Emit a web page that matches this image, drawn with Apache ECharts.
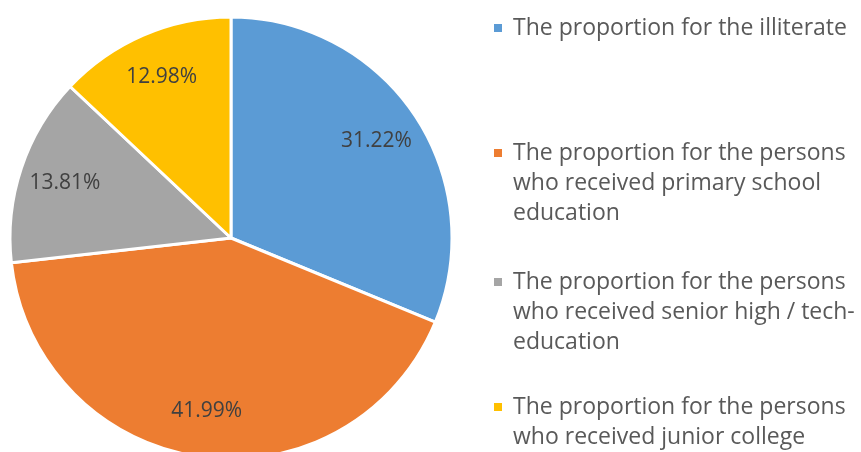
<!DOCTYPE html>
<html>
<head>
<meta charset="utf-8">
<script src="https://cdn.jsdelivr.net/npm/echarts@6/dist/echarts.min.js"></script>
<style>
  html, body { margin: 0; padding: 0; background: #fff; }
  #chart { width: 861px; height: 452px; }
</style>
</head>
<body>
<div id="chart"></div>
<script>
// data
const categories = [
  'The proportion for the illiterate',
  'The proportion for the persons who received primary school education',
  'The proportion for the persons who received senior high / tech-education',
  'The proportion for the persons who received junior college education'
];
const shares = [31.22, 41.99, 13.81, 12.98];
const colors = ['#5B9BD5', '#ED7D31', '#A5A5A5', '#FFC000'];
// how each legend entry wraps in the original
const legendLines = [
  ['The proportion for the illiterate'],
  ['The proportion for the persons', 'who received primary school', 'education'],
  ['The proportion for the persons', 'who received senior high / tech-', 'education'],
  ['The proportion for the persons', 'who received junior college', 'education']
];
const legendTops = [13, 78, 207, 332];

const FONT = '"Open Sans", "Noto Sans", sans-serif';
const chart = echarts.init(document.getElementById('chart'));

const pieData = categories.map((name, i) => ({
  name: name,
  value: shares[i],
  itemStyle: { color: colors[i] }
}));

// one legend block per entry; leading blank lines keep the icon on the first text line
const legends = categories.map((name, i) => {
  const lines = legendLines[i];
  const pad = new Array(lines.length - 1).fill('');
  return {
    data: [name],
    left: 492,
    top: legendTops[i],
    padding: 0,
    itemWidth: 10,
    itemHeight: 10,
    icon: 'rect',
    selectedMode: false,
    formatter: () => pad.concat(lines).join('\n'),
    textStyle: {
      fontFamily: FONT,
      fontSize: 23,
      lineHeight: 30,
      color: '#595959',
      padding: [0, 0, 0, 5]
    }
  };
});

const option = {
  animation: false,
  backgroundColor: '#fff',
  legend: legends,
  series: [
    {
      type: 'pie',
      center: [231, 238],
      radius: 221,
      startAngle: 90,
      clockwise: true,
      silent: true,
      label: { show: false },
      labelLine: { show: false },
      itemStyle: { borderColor: '#fff', borderWidth: 3 },
      data: pieData
    },
    {
      // transparent ring only used to place the percentage labels
      type: 'pie',
      center: [231, 238],
      radius: [123, 221],
      startAngle: 90,
      clockwise: true,
      silent: true,
      avoidLabelOverlap: false,
      itemStyle: { color: 'rgba(0,0,0,0)', borderWidth: 0 },
      label: {
        show: true,
        position: 'inside',
        fontFamily: FONT,
        fontSize: 21,
        color: '#404040',
        formatter: p => p.value.toFixed(2) + '%'
      },
      labelLine: { show: false },
      data: categories.map((name, i) => ({ name: name, value: shares[i] }))
    }
  ]
};

chart.setOption(option);
</script>
</body>
</html>
